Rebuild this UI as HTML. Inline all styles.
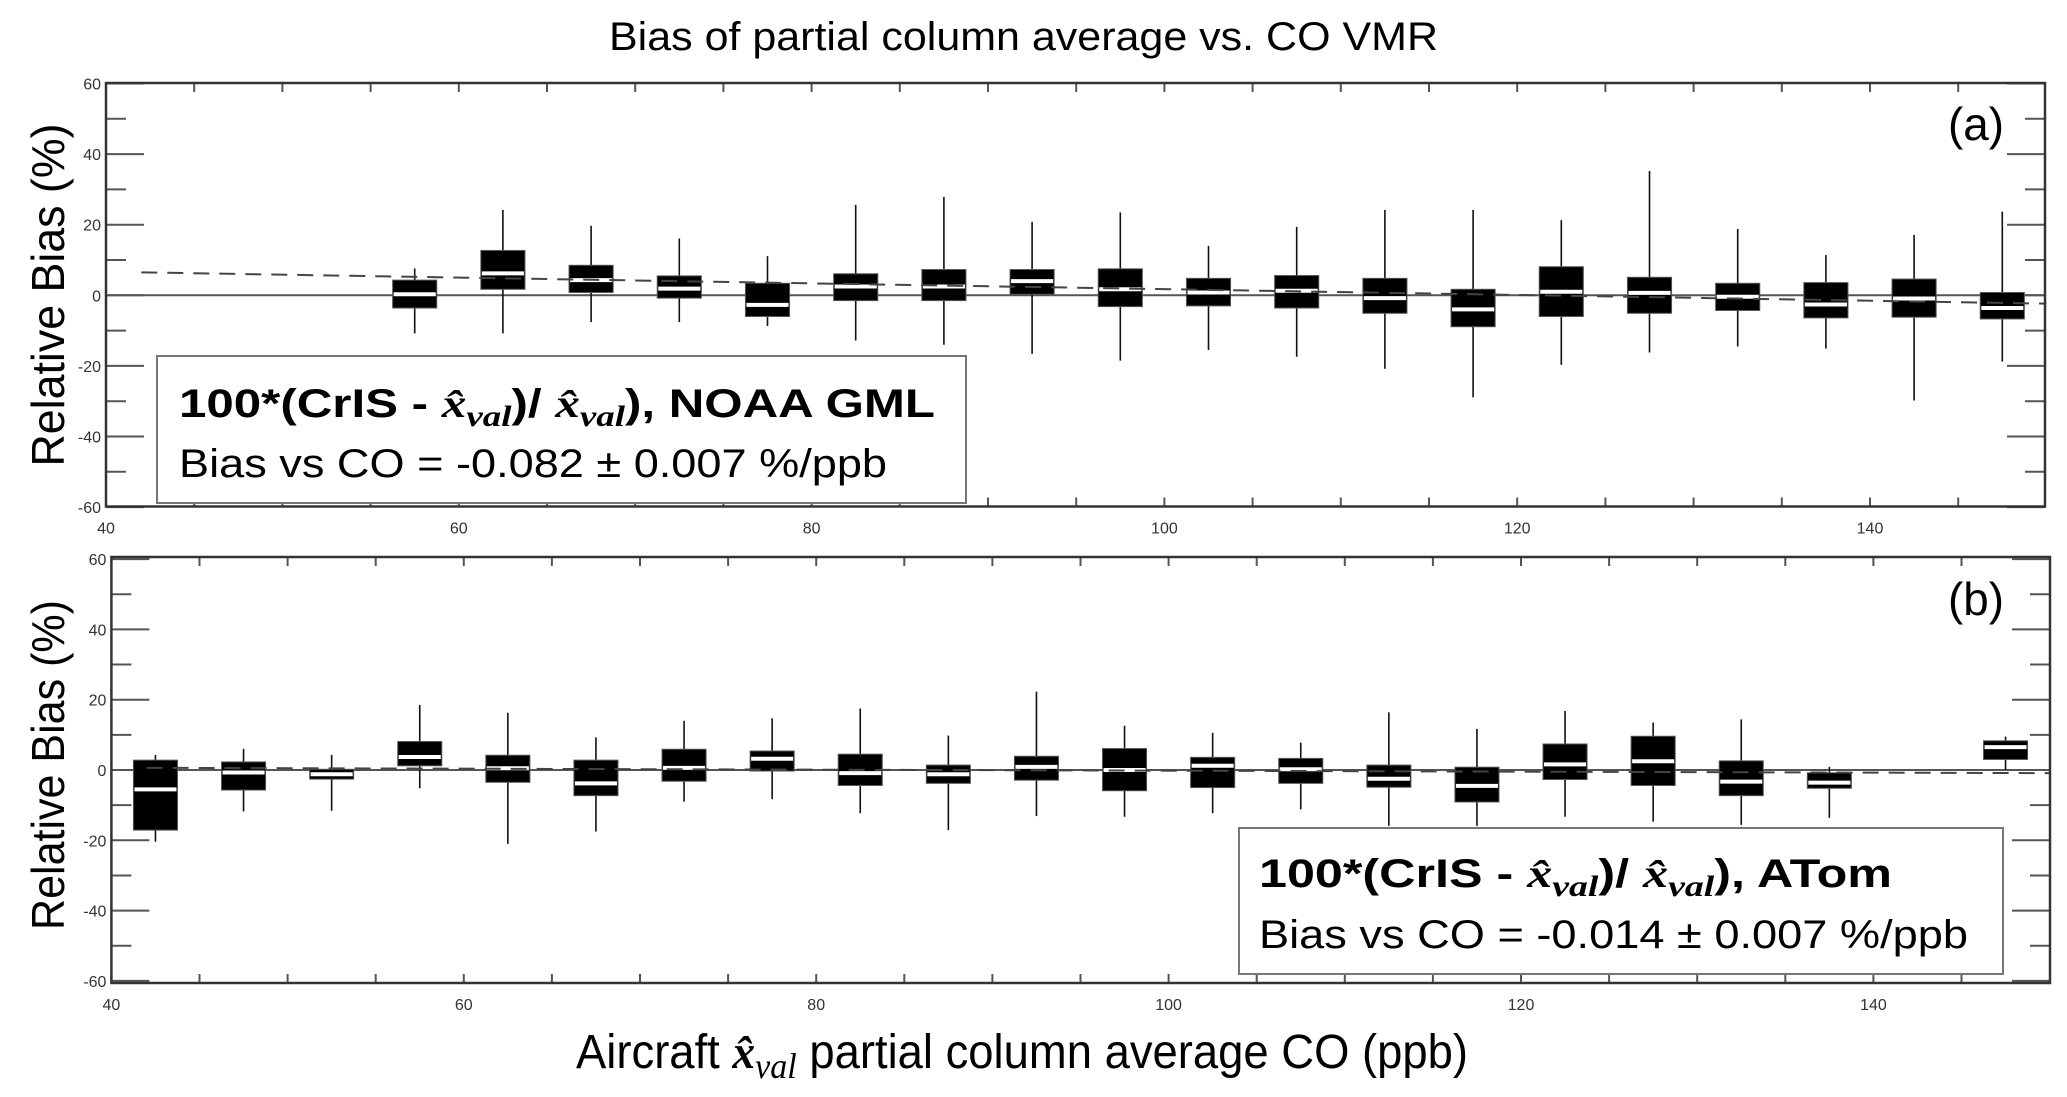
<!DOCTYPE html>
<html><head><meta charset="utf-8"><style>
html,body{margin:0;padding:0;background:#fff;}
svg{display:block;}
text{font-family:"Liberation Sans",sans-serif;}
.tk{font-size:16px;fill:#333;}
</style></head><body>
<svg id="chart" width="2067" height="1097" viewBox="0 0 2067 1097" xmlns="http://www.w3.org/2000/svg">
<text x="609" y="50" font-size="40" textLength="829" lengthAdjust="spacingAndGlyphs">Bias of partial column average vs. CO VMR</text>
<text x="576" y="1068" font-size="48" textLength="892" lengthAdjust="spacingAndGlyphs">Aircraft <tspan font-family="Liberation Serif" font-style="italic" font-weight="bold">x̂</tspan><tspan font-family="Liberation Serif" font-style="italic" font-size="36" dy="10">val</tspan><tspan dy="-10"> partial column average CO (ppb)</tspan></text>
<g id="pa"></g>
<g id="pb"></g>
</svg>
<script>
const categories = [42.5,47.5,52.5,57.5,62.5,67.5,72.5,77.5,82.5,87.5,92.5,97.5,102.5,107.5,112.5,117.5,122.5,127.5,132.5,137.5,142.5,147.5];
// Panel (a) NOAA GML (null = no data)
const aQ3  = [null,null,null,4.3,12.7,8.5,5.5,3.4,6.1,7.3,7.3,7.5,4.8,5.6,4.8,1.7,8.1,5.1,3.4,3.6,4.6,0.8];
const aQ1  = [null,null,null,-3.6,1.7,0.8,-0.8,-6,-1.5,-1.5,0.3,-3.2,-3,-3.6,-5.1,-8.9,-6,-5.1,-4.3,-6.4,-6.2,-6.7];
const aMed = [null,null,null,0.3,6.2,4.3,1.9,-2.7,2.5,2.5,4,1.7,0.8,1.3,-0.8,-4,1,0.7,-0.4,-2.6,-0.9,-3.6];
const aHi  = [null,null,null,7.6,24.2,19.7,16.1,11.1,25.6,27.9,20.8,23.5,14,19.4,24.2,24.2,21.3,35.2,18.8,11.4,17.1,23.7];
const aLo  = [null,null,null,-10.8,-10.8,-7.6,-7.6,-8.7,-12.8,-14,-16.6,-18.5,-15.5,-17.4,-20.8,-28.9,-19.7,-16.2,-14.5,-15.1,-29.8,-18.8];
const aFit = [6.66,-0.082];
// Panel (b) ATom
const bQ3  = [2.8,2.3,0.2,8.1,4.2,2.8,5.9,5.4,4.5,1.4,3.9,6.1,3.6,3.3,1.4,0.8,7.4,9.6,2.6,-0.8,null,8.3];
const bQ1  = [-17.1,-5.7,-2.6,1.2,-3.5,-7.3,-3.2,-0.3,-4.4,-3.8,-2.9,-5.9,-5,-3.8,-4.9,-9.1,-2.7,-4.4,-7.3,-5.2,null,3];
const bMed = [-5.5,-0.7,-1.2,3.7,0.5,-3.8,0.6,3.2,-0.9,-1.2,0.9,0,1.2,0.2,-2.5,-4.5,1.6,2.5,-3.3,-3.6,null,6.5];
const bHi  = [4.3,6,4.3,18.5,16.3,9.3,14,14.7,17.5,9.8,22.3,12.6,10.6,7.8,16.4,11.7,16.8,13.5,14.4,0.9,null,9.5];
const bLo  = [-20.4,-11.8,-11.6,-5.2,-21,-17.5,-9,-8.3,-12.3,-17.1,-13.1,-13.3,-12.3,-11.2,-15.9,-15.9,-13.3,-14.7,-15.6,-13.6,null,0];
const bFit = [0.65,-0.014];
const yTicks = [-60,-40,-20,0,20,40,60];
const xTicks = [40,60,80,100,120,140];

const NS='http://www.w3.org/2000/svg';
function mk(parent,tag,attrs,txt){const e=document.createElementNS(NS,tag);for(const k in attrs)e.setAttribute(k,attrs[k]);if(txt!=null)e.textContent=txt;parent.appendChild(e);return e;}

function panel(g,cfg){
  const X=v=>cfg.x0+(v-40)*cfg.kx, Y=v=>cfg.y0-v*cfg.ky;
  const L=X(40),R=cfg.right,T=cfg.top,B=cfg.bottom;
  // minor/major ticks y
  for(let v=-60;v<=60;v+=10){
    const maj=v%20===0, len=maj?38:20;
    let t=mk(g,'line',{x1:L,x2:L+len,y1:Y(v),y2:Y(v),stroke:'#555','stroke-width':2});
    
    
    t=mk(g,'line',{x1:R,x2:R-len,y1:Y(v),y2:Y(v),stroke:'#555','stroke-width':2});
    
    
  }
  yTicks.forEach(v=>{
    const t=mk(g,'text',{x:L-5,y:Y(v)+6,'text-anchor':'end',class:'tk'},String(v));
    
    
  });
  for(let v=45;v<150;v+=5){
    let t=mk(g,'line',{x1:X(v),x2:X(v),y1:B,y2:B-9,stroke:'#555','stroke-width':2});
    
    
    t=mk(g,'line',{x1:X(v),x2:X(v),y1:T,y2:T+9,stroke:'#555','stroke-width':2});
    
    
  }
  xTicks.forEach(v=>{
    const t=mk(g,'text',{x:X(v),y:B+27,'text-anchor':'middle',class:'tk'},String(v));
    
    
  });
  // zero line
  let z=mk(g,'line',{x1:L,x2:R,y1:Y(0),y2:Y(0),stroke:'#555','stroke-width':2});
  
  
  // boxes
  const hw=1.25*cfg.kx;
  categories.forEach((c,i)=>{
    if(cfg.q3[i]==null)return;
    const cx=X(c);
    let w=mk(g,'line',{x1:cx,x2:cx,y1:Y(cfg.hi[i]),y2:Y(cfg.lo[i]),stroke:'#111','stroke-width':1.6});
    
    
    let b=mk(g,'rect',{x:cx-hw,y:Y(cfg.q3[i]),width:2*hw,height:Y(cfg.q1[i])-Y(cfg.q3[i]),fill:'#000',stroke:'#555','stroke-width':1});
    
    
    let m=mk(g,'line',{x1:cx-hw+1,x2:cx+hw-1,y1:Y(cfg.med[i]),y2:Y(cfg.med[i]),stroke:'#fff','stroke-width':4});
    
    
  });
  // fit line
  const fx1=cfg.fitStart, fx2=150;
  let f=mk(g,'line',{x1:X(fx1),x2:X(fx2),y1:Y(cfg.fit[0]+cfg.fit[1]*(fx1-40)),y2:Y(cfg.fit[0]+cfg.fit[1]*(fx2-40)),stroke:'#444','stroke-width':2,'stroke-dasharray':'16,10'});
  
  
  // frame
  let fr=mk(g,'rect',{x:L,y:T,width:R-L,height:B-T,fill:'none',stroke:'#333','stroke-width':2.5});
  
  
  let yt=mk(g,'text',{x:0,y:0,'font-size':46,'text-anchor':'middle',transform:`translate(64,${cfg.ycenter}) rotate(-90)`,textLength:cfg.ylen,lengthAdjust:'spacingAndGlyphs'},'Relative Bias (%)');
  
  
  let pl=mk(g,'text',{x:cfg.labX,y:cfg.labY,'font-size':46,textLength:56,lengthAdjust:'spacingAndGlyphs'},cfg.lab);
  
  
  // legend
  const lg=mk(g,'g',{});
  
  
  mk(lg,'rect',{x:cfg.lg[0],y:cfg.lg[1],width:cfg.lg[2],height:cfg.lg[3],fill:'#fff',stroke:'#777','stroke-width':2});
  const t1=mk(lg,'text',{x:cfg.lt[0],y:cfg.lt[1],'font-size':40,'font-weight':'bold',textLength:cfg.lt[2],lengthAdjust:'spacingAndGlyphs'});
  t1.innerHTML='100*(CrIS - <tspan font-family="Liberation Serif" font-style="italic">x̂</tspan><tspan font-family="Liberation Serif" font-style="italic" font-size="30" dy="9">val</tspan><tspan dy="-9">)/ </tspan><tspan font-family="Liberation Serif" font-style="italic">x̂</tspan><tspan font-family="Liberation Serif" font-style="italic" font-size="30" dy="9">val</tspan><tspan dy="-9">), '+cfg.name+'</tspan>';
  
  
  const t2=mk(lg,'text',{x:cfg.lt[0],y:cfg.lt[3],'font-size':40,textLength:cfg.lt[4],lengthAdjust:'spacingAndGlyphs'},cfg.slope);
  
  
}
panel(document.getElementById('pa'),{x0:106,kx:17.64,y0:295.3,ky:3.53,right:2045,top:83,bottom:506.5,
  q3:aQ3,q1:aQ1,med:aMed,hi:aHi,lo:aLo,fit:aFit,fitStart:42,ycenter:295,ylen:343,labX:1948,labY:140,lab:'(a)',
  lg:[157,356,809,147],lt:[179,417,756,477,708],name:'NOAA GML',slope:'Bias vs CO = -0.082 ± 0.007 %/ppb'});
panel(document.getElementById('pb'),{x0:111.4,kx:17.62,y0:770,ky:3.515,right:2050,top:557,bottom:983,
  q3:bQ3,q1:bQ1,med:bMed,hi:bHi,lo:bLo,fit:bFit,fitStart:42,ycenter:765,ylen:330,labX:1948,labY:615,lab:'(b)',
  lg:[1239,828,764,146],lt:[1259,887,633,948,709],name:'ATom',slope:'Bias vs CO = -0.014 ± 0.007 %/ppb'});
</script>
</body></html>
